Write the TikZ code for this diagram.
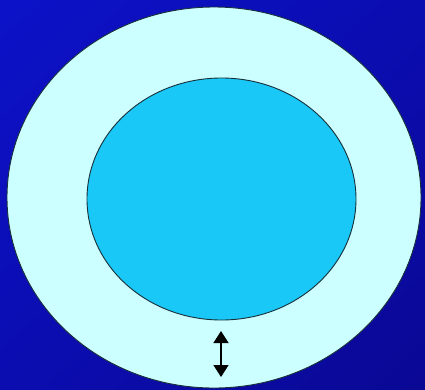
\documentclass[tikz,border=0pt]{standalone}
\usepackage{xcolor}
\definecolor{bgtop}{HTML}{0C12C8}
\definecolor{bgmid}{HTML}{0B0DB0}
\definecolor{bgbot}{HTML}{0A0894}
\definecolor{paleshell}{HTML}{CCFFFF}
\definecolor{corecyan}{HTML}{19C8F6}
\definecolor{rimline}{HTML}{17303A}
\usetikzlibrary{arrows.meta,shadings}

\begin{document}
\begin{tikzpicture}[
		x=1pt, y=-1pt,
		rim/.style={draw=rimline, line width=0.9pt},
		gap/.style={{Triangle[width=15pt,length=12pt]}-{Triangle[width=15pt,length=12pt]}, line width=1.4pt, black}
	]
		% background
		\shade[upper left=bgtop, upper right=bgmid, lower left=bgmid, lower right=bgbot]
			(0,0) rectangle (425,389);
		\useasboundingbox (0,0) rectangle (425,389);

		\fill[paleshell, rim] (214,197.5) ellipse [x radius=207, y radius=190.5];
		\fill[corecyan, rim] (221.5,199) ellipse [x radius=134.5, y radius=121];

		\coordinate (gaptop) at (221,331);
		\coordinate (gapbot) at (221,377);
		\draw[gap] (gaptop) -- (gapbot);
	\end{tikzpicture}
\end{document}
